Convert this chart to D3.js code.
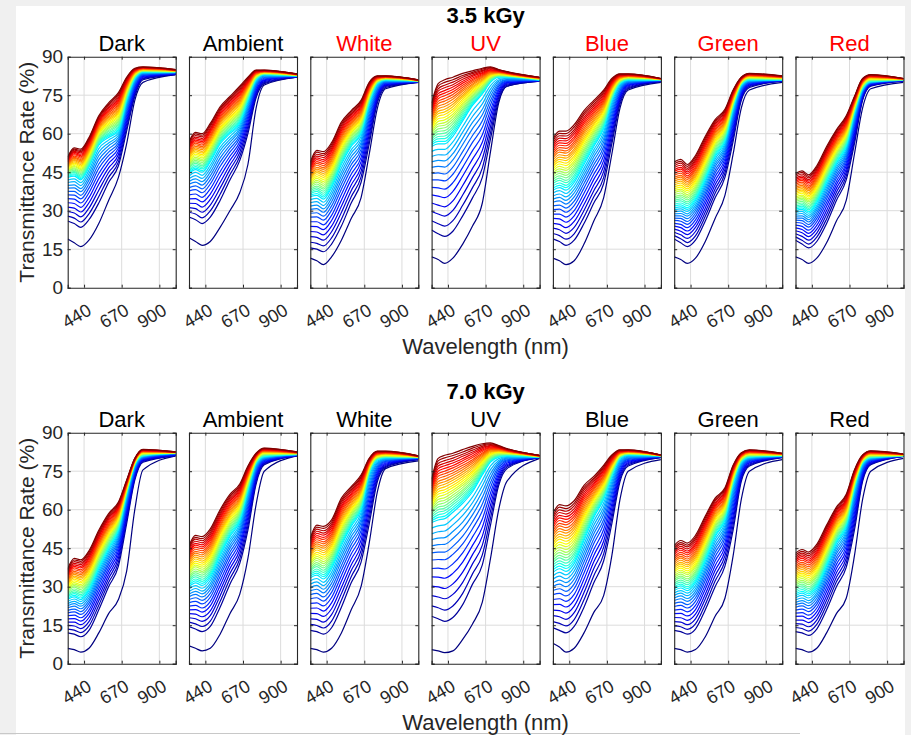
<!DOCTYPE html>
<html><head><meta charset="utf-8">
<script src="https://cdn.jsdelivr.net/npm/d3@7"></script>
<style>html,body{margin:0;padding:0;background:#f0f0f0;}svg{display:block;}</style>
</head><body>
<svg id="chart" width="911" height="735"></svg>
<script>
// ---------------- data ----------------
const wavelengths = [340, 380, 420, 470, 530, 590, 650, 700, 750, 800, 1000];
const xTicks = [440, 670, 900];
const yTicks = [0, 15, 30, 45, 60, 75, 90];
const doses = ["3.5 kGy", "7.0 kGy"];
const lightConditions = ["Dark", "Ambient", "White", "UV", "Blue", "Green", "Red"];
const redTitlesTopRow = ["White", "UV", "Blue", "Green", "Red"];

// transmittance (%) per curve at the wavelengths above, lowest curve first
const dark35 = [
[19,17.5,16,18.5,25,34,43,56,73,80,83],
[26,25,23.5,26.5,33,41,47.5,61,74.5,81,83],
[27.9,27.1,25.6,28.8,35.5,43,49,62.3,75.3,81.4,83.1],
[29.7,29.1,27.6,31,38,44.9,50.5,63.6,76,81.7,83.2],
[31.4,31,29.5,33.1,40.3,46.7,51.9,64.8,76.7,82,83.3],
[33.1,32.8,31.3,35.1,42.5,48.4,53.2,66,77.4,82.3,83.4],
[34.7,34.5,33,37,44.5,50,54.4,67.1,78.1,82.6,83.5],
[36.2,36.1,34.6,38.8,46.5,51.5,55.6,68.2,78.7,82.8,83.6],
[37.5,37.5,36,40.4,48.2,52.8,56.6,69.1,79.3,83.1,83.7],
[38.8,38.9,37.4,41.9,49.9,54.1,57.6,70,79.8,83.3,83.8],
[39.9,40.1,38.6,43.2,51.4,55.3,58.5,70.8,80.3,83.5,83.9],
[41,41.3,39.8,44.5,52.8,56.4,59.4,71.6,80.7,83.6,83.9],
[42,42.4,40.9,45.8,54.2,57.5,60.2,72.3,81.1,83.8,84],
[43,43.5,42,47,55.5,58.5,61,73,81.5,84,84],
[43.3,44,42.5,47.5,56,59.1,61.6,73.4,81.7,84.1,84],
[43.7,44.4,43,48,56.5,59.6,62.3,73.8,81.8,84.2,84.1],
[44,44.9,43.5,48.4,56.9,60.2,62.9,74.1,82,84.3,84.1],
[44.3,45.3,44,48.9,57.4,60.8,63.5,74.5,82.2,84.3,84.2],
[44.7,45.8,44.5,49.4,57.9,61.3,64.1,74.9,82.3,84.4,84.2],
[45,46.3,45,49.9,58.4,61.9,64.8,75.3,82.5,84.5,84.3],
[45.3,46.7,45.5,50.4,58.9,62.4,65.4,75.6,82.7,84.6,84.3],
[45.7,47.2,46,50.8,59.3,63,66,76,82.8,84.7,84.3],
[46,47.6,46.5,51.3,59.8,63.6,66.6,76.4,83,84.8,84.4],
[46.3,48.1,47,51.8,60.3,64.1,67.3,76.8,83.2,84.8,84.4],
[46.7,48.5,47.5,52.3,60.8,64.7,67.9,77.1,83.3,84.9,84.5],
[47,49,48,52.8,61.3,65.3,68.5,77.5,83.5,85,84.5],
[47.3,49.5,48.5,53.2,61.7,65.8,69.1,77.9,83.7,85.1,84.5],
[47.7,49.9,49,53.7,62.2,66.4,69.8,78.3,83.8,85.2,84.6],
[48,50.4,49.5,54.2,62.7,66.9,70.4,78.6,84,85.3,84.6],
[48.3,50.8,50,54.7,63.2,67.5,71,79,84.2,85.3,84.7],
[48.7,51.3,50.5,55.1,63.6,68.1,71.6,79.4,84.3,85.4,84.7],
[49,51.8,51,55.6,64.1,68.6,72.3,79.8,84.5,85.5,84.8],
[49.3,52.2,51.5,56.1,64.6,69.2,72.9,80.1,84.7,85.6,84.8],
[49.7,52.7,52,56.6,65.1,69.8,73.5,80.5,84.8,85.7,84.8],
[50,53.1,52.5,57.1,65.6,70.3,74.1,80.9,85,85.8,84.9],
[50.3,53.6,53,57.5,66.1,70.9,74.8,81.3,85.2,85.8,84.9],
[50.7,54,53.5,58,66.5,71.4,75.4,81.6,85.3,85.9,85],
[51,54.5,54,58.5,67,72,76,82,85.5,86,85]];

const ambient35 = [
[19.5,18,16.5,18,23.5,30,37,48,70,79,82],
[27.5,26.5,25,27.5,34,42,49.5,60,74,79.5,82],
[29.4,28.7,27.2,29.9,36.4,44,51.1,61.5,74.8,79.9,82],
[31.2,30.8,29.4,32.2,38.8,46,52.7,62.9,75.5,80.3,82.1],
[32.9,32.8,31.4,34.4,41,47.8,54.2,64.2,76.2,80.7,82.2],
[34.6,34.7,33.4,36.5,43.2,49.6,55.6,65.5,76.9,81,82.2],
[36.2,36.5,35.2,38.5,45.2,51.2,56.9,66.7,77.6,81.3,82.3],
[37.7,38.2,37,40.4,47.2,52.8,58.2,67.8,78.2,81.6,82.3],
[39,39.7,38.5,42,48.9,54.2,59.3,68.8,78.8,81.9,82.4],
[40.3,41.1,40,43.6,50.5,55.5,60.4,69.8,79.3,82.1,82.4],
[41.4,42.4,41.3,45,52,56.7,61.4,70.6,79.8,82.4,82.4],
[42.5,43.7,42.6,46.4,53.4,57.8,62.3,71.4,80.2,82.6,82.4],
[43.5,44.9,43.8,47.7,54.7,58.9,63.2,72.2,80.6,82.8,82.5],
[44.5,46,45,49,56,60,64,73,81,83,82.5],
[45,46.6,45.6,49.6,56.6,60.6,64.6,73.4,81.2,83.1,82.5],
[45.5,47.2,46.3,50.3,57.2,61.2,65.2,73.8,81.3,83.2,82.6],
[46,47.8,46.9,50.9,57.8,61.8,65.8,74.1,81.5,83.2,82.6],
[46.6,48.4,47.5,51.5,58.4,62.4,66.4,74.5,81.6,83.3,82.6],
[47.1,49,48.1,52.1,59,63,67,74.9,81.8,83.4,82.7],
[47.6,49.6,48.8,52.8,59.6,63.6,67.6,75.3,82,83.5,82.7],
[48.1,50.2,49.4,53.4,60.2,64.2,68.2,75.6,82.1,83.6,82.7],
[48.7,50.8,50,54,60.8,64.8,68.8,76,82.3,83.6,82.8],
[49.2,51.4,50.6,54.6,61.4,65.4,69.4,76.4,82.5,83.7,82.8],
[49.7,52,51.3,55.3,62,66,70,76.8,82.6,83.8,82.8],
[50.2,52.6,51.9,55.9,62.6,66.6,70.6,77.1,82.8,83.9,82.9],
[50.8,53.3,52.5,56.5,63.3,67.3,71.3,77.5,82.9,83.9,82.9],
[51.3,53.9,53.1,57.1,63.9,67.9,71.9,77.9,83.1,84,82.9],
[51.8,54.5,53.8,57.8,64.5,68.5,72.5,78.3,83.2,84.1,83],
[52.3,55.1,54.4,58.4,65.1,69.1,73.1,78.6,83.4,84.2,83],
[52.8,55.7,55,59,65.7,69.7,73.7,79,83.5,84.2,83],
[53.3,56.3,55.6,59.6,66.3,70.3,74.3,79.4,83.7,84.3,83.1],
[53.9,56.9,56.3,60.3,66.9,70.9,74.9,79.8,83.9,84.4,83.1],
[54.4,57.5,56.9,60.9,67.5,71.5,75.5,80.1,84,84.4,83.1],
[54.9,58.1,57.5,61.5,68.1,72.1,76.1,80.5,84.2,84.5,83.2],
[55.4,58.7,58.1,62.1,68.7,72.7,76.7,80.9,84.4,84.6,83.2],
[56,59.3,58.8,62.8,69.3,73.3,77.3,81.3,84.5,84.7,83.2],
[56.5,59.9,59.4,63.4,69.9,73.9,77.9,81.6,84.7,84.7,83.3],
[57,60.5,60,64,70.5,74.5,78.5,82,84.8,84.8,83.3]];

const white35 = [
[11.5,10.5,9,12,18.5,27,35,52,70,77.5,80],
[15.5,15,14,17,24,33,41,56,72,78,80],
[17.7,17.3,16.3,19.4,26.7,35.4,43.1,57.8,72.9,78.4,80.1],
[19.9,19.6,18.5,21.8,29.3,37.8,45.2,59.5,73.7,78.7,80.1],
[21.9,21.7,20.6,24,31.7,40,47.1,61.1,74.5,79,80.2],
[23.9,23.8,22.6,26.2,34.1,42.2,49,62.7,75.2,79.3,80.2],
[25.7,25.7,24.5,28.2,36.3,44.2,50.7,64.2,75.9,79.6,80.3],
[27.5,27.6,26.3,30.2,38.4,46.2,52.4,65.6,76.5,79.8,80.3],
[29,29.2,27.9,31.9,40.2,47.9,53.9,66.8,77.1,80.1,80.4],
[30.5,30.8,29.4,33.5,42,49.5,55.3,68,77.6,80.3,80.4],
[31.8,32.2,30.7,35,43.6,51,56.5,69.1,78.1,80.5,80.4],
[33.1,33.5,32,36.4,45.1,52.4,57.7,70.1,78.6,80.6,80.4],
[34.3,34.8,33.3,37.7,46.6,53.7,58.9,71.1,79.1,80.8,80.5],
[35.5,36,34.5,39,48,55,60,72,79.5,81,80.5],
[36.1,36.7,35.3,39.7,48.7,55.6,60.5,72.3,79.6,81.1,80.5],
[36.6,37.5,36,40.5,49.4,56.2,61.1,72.7,79.8,81.1,80.5],
[37.2,38.2,36.8,41.2,50.1,56.8,61.6,73,79.9,81.2,80.6],
[37.8,38.9,37.6,41.9,50.8,57.3,62.2,73.3,80,81.3,80.6],
[38.3,39.6,38.4,42.6,51.4,57.9,62.7,73.7,80.1,81.3,80.6],
[38.9,40.4,39.1,43.4,52.1,58.5,63.3,74,80.3,81.4,80.6],
[39.4,41.1,39.9,44.1,52.8,59.1,63.8,74.3,80.4,81.4,80.6],
[40,41.8,40.7,44.8,53.5,59.7,64.3,74.7,80.5,81.5,80.7],
[40.6,42.6,41.4,45.6,54.2,60.3,64.9,75,80.6,81.6,80.7],
[41.1,43.3,42.2,46.3,54.9,60.8,65.4,75.3,80.8,81.6,80.7],
[41.7,44,43,47,55.6,61.4,66,75.7,80.9,81.7,80.7],
[42.3,44.8,43.8,47.8,56.3,62,66.5,76,81,81.8,80.8],
[42.8,45.5,44.5,48.5,56.9,62.6,67,76.3,81.1,81.8,80.8],
[43.4,46.2,45.3,49.2,57.6,63.2,67.6,76.7,81.3,81.9,80.8],
[43.9,46.9,46.1,49.9,58.3,63.8,68.1,77,81.4,81.9,80.8],
[44.5,47.7,46.8,50.7,59,64.3,68.7,77.3,81.5,82,80.8],
[45.1,48.4,47.6,51.4,59.7,64.9,69.2,77.7,81.6,82.1,80.9],
[45.6,49.1,48.4,52.1,60.4,65.5,69.8,78,81.8,82.1,80.9],
[46.2,49.9,49.2,52.9,61.1,66.1,70.3,78.3,81.9,82.2,80.9],
[46.8,50.6,49.9,53.6,61.8,66.7,70.8,78.7,82,82.3,80.9],
[47.3,51.3,50.7,54.3,62.4,67.3,71.4,79,82.1,82.3,80.9],
[47.9,52,51.5,55,63.1,67.8,71.9,79.3,82.3,82.4,81],
[48.4,52.8,52.2,55.8,63.8,68.4,72.5,79.7,82.4,82.4,81],
[49,53.5,53,56.5,64.5,69,73,80,82.5,82.5,81]];

const uv35 = [
[12,11,9.5,11.5,17,24,33,53,72,78.5,80.5],
[22.5,21,20,22,28,35,43,58,73,78.5,80.5],
[26.1,24.9,24,26.1,32.1,39,46.6,60.4,74,78.9,80.6],
[29.7,28.7,27.9,30.1,36.1,42.9,50.2,62.8,75,79.3,80.6],
[33,32.2,31.5,33.8,39.8,46.5,53.5,65,75.9,79.7,80.7],
[36.2,35.7,35.1,37.5,43.5,50.1,56.7,67.2,76.8,80,80.7],
[39.1,38.9,38.4,40.9,46.9,53.4,59.6,69.2,77.6,80.3,80.8],
[42,42,41.6,44.2,50.2,56.6,62.5,71.2,78.4,80.6,80.8],
[44.5,44.7,44.3,47,53,59.3,65,72.9,79.1,80.9,80.9],
[46.9,47.3,47,49.8,55.8,62,67.4,74.5,79.8,81.1,80.9],
[49,49.6,49.4,52.2,58.2,64.4,69.5,76,80.4,81.4,80.9],
[51.1,51.8,51.7,54.6,60.6,66.7,71.6,77.4,80.9,81.6,80.9],
[53.1,53.9,53.9,56.8,62.8,68.9,73.6,78.7,81.5,81.8,81],
[55,56,56,59,65,71,75.5,80,82,82,81],
[55.7,57,57,60,65.8,71.6,75.9,80.3,82.1,82.1,81],
[56.4,58,58.1,60.9,66.5,72.1,76.3,80.5,82.3,82.2,81.1],
[57.1,58.9,59.1,61.9,67.3,72.7,76.8,80.8,82.4,82.3,81.1],
[57.8,59.9,60.2,62.8,68.1,73.3,77.2,81,82.5,82.4,81.2],
[58.5,60.9,61.2,63.8,68.9,73.8,77.6,81.3,82.6,82.5,81.2],
[59.3,61.9,62.3,64.8,69.6,74.4,78,81.5,82.8,82.6,81.3],
[60,62.9,63.3,65.7,70.4,74.9,78.4,81.8,82.9,82.6,81.3],
[60.7,63.8,64.3,66.7,71.2,75.5,78.8,82,83,82.7,81.3],
[61.4,64.8,65.4,67.6,71.9,76.1,79.3,82.3,83.1,82.8,81.4],
[62.1,65.8,66.4,68.6,72.7,76.6,79.7,82.5,83.3,82.9,81.4],
[62.8,66.8,67.5,69.5,73.5,77.2,80.1,82.8,83.4,83,81.5],
[63.5,67.8,68.5,70.5,74.3,77.8,80.5,83,83.5,83.1,81.5],
[64.2,68.7,69.5,71.5,75,78.3,80.9,83.3,83.6,83.2,81.5],
[64.9,69.7,70.6,72.4,75.8,78.9,81.3,83.5,83.8,83.3,81.6],
[65.6,70.7,71.6,73.4,76.6,79.4,81.8,83.8,83.9,83.4,81.6],
[66.3,71.7,72.7,74.3,77.3,80,82.2,84,84,83.5,81.7],
[67,72.6,73.7,75.3,78.1,80.6,82.6,84.3,84.1,83.6,81.7],
[67.8,73.6,74.8,76.3,78.9,81.1,83,84.5,84.3,83.7,81.8],
[68.5,74.6,75.8,77.2,79.7,81.7,83.4,84.8,84.4,83.7,81.8],
[69.2,75.6,76.8,78.2,80.4,82.3,83.8,85,84.5,83.8,81.8],
[69.9,76.6,77.9,79.1,81.2,82.8,84.3,85.3,84.6,83.9,81.9],
[70.6,77.5,78.9,80.1,82,83.4,84.7,85.5,84.8,84,81.9],
[71.3,78.5,80,81,82.7,83.9,85.1,85.8,84.9,84.1,82],
[72,79.5,81,82,83.5,84.5,85.5,86,85,84.2,82]];

const blue35 = [
[11.5,10.5,9,10.5,17,26,35,52,70,77,80],
[19,18,16.5,18.5,25,33,40.5,56,71.5,77.5,80.3],
[21.1,20.3,18.9,21,27.6,35.4,42.9,57.9,72.4,77.9,80.4],
[23.2,22.6,21.2,23.5,30.1,37.8,45.2,59.7,73.3,78.3,80.5],
[25.1,24.7,23.4,25.8,32.4,40,47.4,61.4,74.1,78.7,80.6],
[27,26.8,25.5,28,34.7,42.2,49.5,63.1,74.9,79,80.6],
[28.7,28.7,27.5,30,36.8,44.2,51.5,64.7,75.6,79.3,80.7],
[30.4,30.6,29.4,32,38.8,46.2,53.4,66.2,76.3,79.6,80.7],
[31.9,32.2,31,33.7,40.6,47.9,55,67.5,76.9,79.9,80.8],
[33.3,33.8,32.6,35.4,42.3,49.5,56.6,68.8,77.5,80.1,80.8],
[34.5,35.2,34,36.9,43.8,51,58,69.9,78,80.4,80.9],
[35.7,36.5,35.4,38.3,45.2,52.4,59.4,71,78.5,80.6,80.9],
[36.9,37.8,36.7,39.7,46.6,53.7,60.7,72,79,80.8,81],
[38,39,38,41,48,55,62,73,79.5,81,81],
[38.8,39.9,39,41.9,48.9,55.8,62.6,73.4,79.7,81.1,81],
[39.7,40.8,39.9,42.9,49.8,56.5,63.3,73.7,79.8,81.2,81],
[40.5,41.8,40.9,43.8,50.6,57.3,63.9,74.1,80,81.3,81.1],
[41.3,42.7,41.8,44.8,51.5,58,64.5,74.4,80.1,81.4,81.1],
[42.2,43.6,42.8,45.7,52.4,58.8,65.1,74.8,80.3,81.5,81.1],
[43,44.5,43.8,46.6,53.3,59.5,65.8,75.1,80.5,81.6,81.1],
[43.8,45.4,44.7,47.6,54.1,60.3,66.4,75.5,80.6,81.7,81.2],
[44.7,46.3,45.7,48.5,55,61,67,75.8,80.8,81.8,81.2],
[45.5,47.3,46.6,49.4,55.9,61.8,67.6,76.2,80.9,81.9,81.2],
[46.3,48.2,47.6,50.4,56.8,62.5,68.3,76.5,81.1,82,81.2],
[47.2,49.1,48.5,51.3,57.6,63.3,68.9,76.9,81.2,82.1,81.2],
[48,50,49.5,52.3,58.5,64,69.5,77.3,81.4,82.2,81.3],
[48.8,50.9,50.5,53.2,59.4,64.8,70.1,77.6,81.6,82.3,81.3],
[49.7,51.8,51.4,54.1,60.3,65.5,70.8,78,81.7,82.3,81.3],
[50.5,52.8,52.4,55.1,61.1,66.3,71.4,78.3,81.9,82.4,81.3],
[51.3,53.7,53.3,56,62,67,72,78.7,82,82.5,81.3],
[52.2,54.6,54.3,56.9,62.9,67.8,72.6,79,82.2,82.6,81.4],
[53,55.5,55.3,57.9,63.8,68.5,73.3,79.4,82.4,82.7,81.4],
[53.8,56.4,56.2,58.8,64.6,69.3,73.9,79.7,82.5,82.8,81.4],
[54.7,57.3,57.2,59.8,65.5,70,74.5,80.1,82.7,82.9,81.4],
[55.5,58.3,58.1,60.7,66.4,70.8,75.1,80.4,82.8,83,81.4],
[56.3,59.2,59.1,61.6,67.3,71.5,75.8,80.8,83,83.1,81.5],
[57.2,60.1,60,62.6,68.1,72.3,76.4,81.1,83.2,83.2,81.5],
[58,61,61,63.5,69,73,77,81.5,83.3,83.3,81.5]];

const green35 = [
[12,11,9.5,11.5,18,27,36,52,70,77,80],
[19,17.5,16,18.5,26,35,43,57,73,78,80.5],
[20.3,19.1,17.6,20.2,27.8,36.8,44.6,58.5,73.7,78.4,80.6],
[21.6,20.6,19.2,21.9,29.5,38.5,46.1,59.9,74.3,78.7,80.6],
[22.8,22,20.7,23.5,31.1,40.1,47.5,61.2,74.9,79,80.7],
[24,23.4,22.1,25,32.7,41.7,48.9,62.5,75.5,79.3,80.7],
[25.1,24.7,23.4,26.4,34.2,43.2,50.2,63.7,76.1,79.6,80.8],
[26.2,25.9,24.7,27.8,35.6,44.6,51.4,64.8,76.6,79.8,80.8],
[27.1,27,25.8,29,36.8,45.8,52.5,65.8,77.1,80.1,80.9],
[28,28,26.9,30.1,38,47,53.5,66.8,77.5,80.3,80.9],
[28.8,28.9,27.9,31.1,39.1,48.1,54.4,67.6,77.9,80.5,80.9],
[29.6,29.8,28.8,32.1,40.1,49.1,55.3,68.4,78.3,80.6,80.9],
[30.3,30.7,29.7,33.1,41.1,50.1,56.2,69.2,78.7,80.8,81],
[31,31.5,30.5,34,42,51,57,70,79,81,81],
[31.8,32.3,31.2,34.7,42.7,51.6,57.5,70.3,79.1,81.1,81.1],
[32.5,33,32,35.5,43.4,52.2,58,70.6,79.3,81.2,81.1],
[33.3,33.8,32.7,36.2,44.1,52.8,58.6,70.9,79.4,81.3,81.2],
[34,34.6,33.4,36.9,44.8,53.4,59.1,71.2,79.5,81.4,81.3],
[34.8,35.4,34.2,37.7,45.5,54,59.6,71.5,79.6,81.5,81.3],
[35.5,36.1,34.9,38.4,46.3,54.6,60.1,71.8,79.8,81.6,81.4],
[36.3,36.9,35.6,39.1,47,55.2,60.7,72,79.9,81.7,81.4],
[37,37.7,36.3,39.8,47.7,55.8,61.2,72.3,80,81.8,81.5],
[37.8,38.4,37.1,40.6,48.4,56.4,61.7,72.6,80.1,81.9,81.6],
[38.5,39.2,37.8,41.3,49.1,57,62.2,72.9,80.3,82,81.6],
[39.3,40,38.5,42,49.8,57.6,62.7,73.2,80.4,82.1,81.7],
[40,40.8,39.3,42.8,50.5,58.3,63.3,73.5,80.5,82.3,81.8],
[40.8,41.5,40,43.5,51.2,58.9,63.8,73.8,80.6,82.4,81.8],
[41.5,42.3,40.7,44.2,51.9,59.5,64.3,74.1,80.8,82.5,81.9],
[42.3,43.1,41.4,44.9,52.6,60.1,64.8,74.4,80.9,82.6,81.9],
[43,43.8,42.2,45.7,53.3,60.7,65.3,74.7,81,82.7,82],
[43.8,44.6,42.9,46.4,54,61.3,65.9,75,81.1,82.8,82.1],
[44.5,45.4,43.6,47.1,54.8,61.9,66.4,75.3,81.3,82.9,82.1],
[45.3,46.2,44.4,47.9,55.5,62.5,66.9,75.5,81.4,83,82.2],
[46,46.9,45.1,48.6,56.2,63.1,67.4,75.8,81.5,83.1,82.3],
[46.8,47.7,45.8,49.3,56.9,63.7,67.9,76.1,81.6,83.2,82.3],
[47.5,48.5,46.5,50,57.6,64.3,68.5,76.4,81.8,83.3,82.4],
[48.3,49.2,47.3,50.8,58.3,64.9,69,76.7,81.9,83.4,82.4],
[49,50,48,51.5,59,65.5,69.5,77,82,83.5,82.5]];

const red35 = [
[12,11,9.5,11.5,17.5,26,34,52,70,77.5,80],
[18.5,17,15.5,18,25,34,42,56,73,78.5,80.5],
[19.8,18.5,17,19.7,26.8,35.6,43.5,57.3,73.5,78.7,80.6],
[21,20,18.5,21.3,28.5,37.2,44.9,58.6,74,78.9,80.6],
[22.2,21.4,19.9,22.8,30.1,38.7,46.2,59.8,74.5,79.1,80.7],
[23.3,22.7,21.2,24.3,31.7,40.1,47.5,61,74.9,79.3,80.7],
[24.4,23.9,22.4,25.7,33.2,41.4,48.7,62.1,75.3,79.5,80.8],
[25.4,25.1,23.6,27,34.6,42.7,49.8,63.2,75.7,79.6,80.8],
[26.3,26.1,24.6,28.2,35.8,43.8,50.8,64.1,76.1,79.8,80.9],
[27.1,27.1,25.6,29.3,37,44.9,51.8,65,76.4,79.9,80.9],
[27.9,28,26.5,30.3,38.1,45.9,52.6,65.8,76.7,80,80.9],
[28.6,28.9,27.4,31.2,39.1,46.8,53.4,66.6,77,80.1,80.9],
[29.3,29.7,28.2,32.1,40.1,47.7,54.2,67.3,77.3,80.2,81],
[30,30.5,29,33,41,48.5,55,68,77.5,80.3,81],
[30.6,31.1,29.6,33.6,41.6,49,55.5,68.3,77.7,80.4,81],
[31.2,31.8,30.3,34.2,42.2,49.6,56,68.5,77.8,80.5,81],
[31.8,32.4,30.9,34.8,42.8,50.1,56.5,68.8,78,80.6,81.1],
[32.4,33,31.5,35.4,43.3,50.7,57,69.1,78.2,80.8,81.1],
[33,33.6,32.1,36,43.9,51.2,57.5,69.4,78.3,80.9,81.1],
[33.6,34.3,32.8,36.6,44.5,51.8,58,69.6,78.5,81,81.1],
[34.2,34.9,33.4,37.2,45.1,52.3,58.5,69.9,78.7,81.1,81.2],
[34.8,35.5,34,37.8,45.7,52.8,59,70.2,78.8,81.2,81.2],
[35.4,36.1,34.6,38.4,46.3,53.4,59.5,70.4,79,81.3,81.2],
[36,36.8,35.3,39,46.8,53.9,60,70.7,79.2,81.4,81.2],
[36.6,37.4,35.9,39.6,47.4,54.5,60.5,71,79.3,81.5,81.2],
[37.3,38,36.5,40.3,48,55,61,71.3,79.5,81.7,81.3],
[37.9,38.6,37.1,40.9,48.6,55.5,61.5,71.5,79.7,81.8,81.3],
[38.5,39.3,37.8,41.5,49.2,56.1,62,71.8,79.8,81.9,81.3],
[39.1,39.9,38.4,42.1,49.8,56.6,62.5,72.1,80,82,81.3],
[39.7,40.5,39,42.7,50.3,57.2,63,72.3,80.2,82.1,81.3],
[40.3,41.1,39.6,43.3,50.9,57.7,63.5,72.6,80.3,82.2,81.4],
[40.9,41.8,40.3,43.9,51.5,58.3,64,72.9,80.5,82.3,81.4],
[41.5,42.4,40.9,44.5,52.1,58.8,64.5,73.2,80.7,82.4,81.4],
[42.1,43,41.5,45.1,52.7,59.3,65,73.4,80.8,82.5,81.4],
[42.7,43.6,42.1,45.7,53.3,59.9,65.5,73.7,81,82.7,81.4],
[43.3,44.3,42.8,46.3,53.8,60.4,66,74,81.2,82.8,81.5],
[43.9,44.9,43.4,46.9,54.4,61,66.5,74.2,81.3,82.9,81.5],
[44.5,45.5,44,47.5,55,61.5,67,74.5,81.5,83,81.5]];

const dark70 = [
[6,5.5,4.5,6,12,19.5,25,36,60,75.5,81],
[12,11.5,10.5,13,21,30,38,54.5,71.5,78.5,81],
[13.5,13.1,12.1,14.7,22.8,31.6,39.6,55.8,72.2,78.8,81.1],
[14.9,14.7,13.7,16.4,24.5,33.2,41.1,57,72.8,79.1,81.2],
[16.2,16.2,15.2,18,26.1,34.7,42.5,58.2,73.4,79.4,81.3],
[17.5,17.6,16.6,19.5,27.7,36.1,43.9,59.3,74,79.6,81.4],
[18.7,18.9,17.9,20.9,29.2,37.4,45.2,60.4,74.6,79.8,81.5],
[19.8,20.2,19.2,22.3,30.6,38.7,46.4,61.4,75.1,80,81.6],
[20.8,21.3,20.3,23.5,31.8,39.8,47.5,62.3,75.6,80.2,81.7],
[21.8,22.4,21.4,24.6,33,40.9,48.5,63.1,76,80.4,81.8],
[22.6,23.4,22.4,25.6,34.1,41.9,49.4,63.9,76.4,80.6,81.9],
[23.4,24.3,23.3,26.6,35.1,42.8,50.3,64.6,76.8,80.7,81.9],
[24.2,25.2,24.2,27.6,36.1,43.7,51.2,65.3,77.2,80.9,82],
[25,26,25,28.5,37,44.5,52,66,77.5,81,82],
[25.5,26.6,25.6,29.1,37.6,45.1,52.5,66.2,77.6,81.1,82],
[26,27.3,26.3,29.8,38.3,45.7,52.9,66.5,77.7,81.2,82],
[26.5,27.9,26.9,30.4,38.9,46.3,53.4,66.7,77.8,81.3,82.1],
[27,28.5,27.6,31.1,39.5,46.8,53.8,66.9,77.9,81.4,82.1],
[27.5,29.1,28.2,31.7,40.1,47.4,54.3,67.1,78,81.5,82.1],
[28,29.8,28.9,32.4,40.8,48,54.8,67.4,78.1,81.6,82.1],
[28.5,30.4,29.5,33,41.4,48.6,55.2,67.6,78.2,81.7,82.2],
[29,31,30.2,33.7,42,49.2,55.7,67.8,78.3,81.8,82.2],
[29.5,31.6,30.8,34.3,42.6,49.8,56.1,68.1,78.4,81.9,82.2],
[30,32.3,31.5,35,43.3,50.3,56.6,68.3,78.5,82,82.2],
[30.5,32.9,32.1,35.6,43.9,50.9,57,68.5,78.6,82.1,82.2],
[31,33.5,32.8,36.3,44.5,51.5,57.5,68.8,78.8,82.3,82.3],
[31.5,34.1,33.4,36.9,45.1,52.1,58,69,78.9,82.4,82.3],
[32,34.8,34,37.5,45.8,52.7,58.4,69.2,79,82.5,82.3],
[32.5,35.4,34.7,38.2,46.4,53.3,58.9,69.4,79.1,82.6,82.3],
[33,36,35.3,38.8,47,53.8,59.3,69.7,79.2,82.7,82.3],
[33.5,36.6,36,39.5,47.6,54.4,59.8,69.9,79.3,82.8,82.4],
[34,37.3,36.6,40.1,48.3,55,60.3,70.1,79.4,82.9,82.4],
[34.5,37.9,37.3,40.8,48.9,55.6,60.7,70.4,79.5,83,82.4],
[35,38.5,37.9,41.4,49.5,56.2,61.2,70.6,79.6,83.1,82.4],
[35.5,39.1,38.6,42.1,50.1,56.8,61.6,70.8,79.7,83.2,82.4],
[36,39.8,39.2,42.7,50.8,57.3,62.1,71,79.8,83.3,82.5],
[36.5,40.4,39.9,43.4,51.4,57.9,62.5,71.3,79.9,83.4,82.5],
[37,41,40.5,44,52,58.5,63,71.5,80,83.5,82.5]];

const ambient70 = [
[7,6,5,6,11.5,19.5,27,41,62,75,81],
[14.5,13.5,12.5,14.5,22,31,39,52,70,77.5,81],
[16.2,15.5,14.5,16.6,24.2,33.1,40.8,53.7,70.9,77.9,81.1],
[17.9,17.5,16.5,18.7,26.4,35.1,42.6,55.4,71.8,78.2,81.1],
[19.5,19.3,18.3,20.6,28.4,37,44.3,57,72.6,78.5,81.2],
[21,21.1,20.1,22.5,30.4,38.8,45.9,58.5,73.4,78.8,81.2],
[22.4,22.7,21.7,24.2,32.2,40.5,47.4,59.9,74.1,79.1,81.3],
[23.8,24.3,23.3,25.9,34,42.1,48.9,61.3,74.8,79.4,81.3],
[25,25.7,24.7,27.4,35.5,43.5,50.2,62.5,75.4,79.7,81.4],
[26.1,27,26,28.8,37,44.9,51.4,63.6,76,79.9,81.4],
[27.1,28.2,27.2,30,38.3,46.1,52.5,64.6,76.5,80.1,81.4],
[28.1,29.3,28.3,31.2,39.6,47.3,53.5,65.6,77,80.3,81.4],
[29.1,30.4,29.4,32.4,40.8,48.4,54.5,66.6,77.5,80.5,81.5],
[30,31.5,30.5,33.5,42,49.5,55.5,67.5,78,80.7,81.5],
[30.7,32.3,31.3,34.3,42.8,50.2,56.1,67.9,78.2,80.8,81.5],
[31.3,33,32.1,35.1,43.5,50.9,56.7,68.3,78.3,81,81.6],
[32,33.8,32.9,35.9,44.3,51.6,57.3,68.7,78.5,81.1,81.6],
[32.7,34.6,33.7,36.7,45,52.3,57.9,69.1,78.7,81.3,81.7],
[33.3,35.4,34.5,37.5,45.8,52.9,58.5,69.5,78.8,81.4,81.7],
[34,36.1,35.3,38.3,46.5,53.6,59.1,69.9,79,81.5,81.8],
[34.7,36.9,36,39,47.3,54.3,59.7,70.3,79.2,81.7,81.8],
[35.3,37.7,36.8,39.8,48,55,60.3,70.7,79.3,81.8,81.8],
[36,38.4,37.6,40.6,48.8,55.7,60.9,71.1,79.5,81.9,81.9],
[36.7,39.2,38.4,41.4,49.5,56.4,61.5,71.5,79.7,82.1,81.9],
[37.3,40,39.2,42.2,50.3,57.1,62.1,71.9,79.8,82.2,82],
[38,40.8,40,43,51,57.8,62.8,72.3,80,82.4,82],
[38.7,41.5,40.8,43.8,51.8,58.4,63.4,72.7,80.2,82.5,82],
[39.3,42.3,41.6,44.6,52.5,59.1,64,73.1,80.3,82.6,82.1],
[40,43.1,42.4,45.4,53.3,59.8,64.6,73.4,80.5,82.8,82.1],
[40.7,43.8,43.2,46.2,54,60.5,65.2,73.8,80.7,82.9,82.2],
[41.3,44.6,44,47,54.8,61.2,65.8,74.2,80.8,83,82.2],
[42,45.4,44.8,47.8,55.5,61.9,66.4,74.6,81,83.2,82.3],
[42.7,46.2,45.5,48.5,56.3,62.6,67,75,81.2,83.3,82.3],
[43.3,46.9,46.3,49.3,57,63.3,67.6,75.4,81.3,83.5,82.3],
[44,47.7,47.1,50.1,57.8,63.9,68.2,75.8,81.5,83.6,82.4],
[44.7,48.5,47.9,50.9,58.5,64.6,68.8,76.2,81.7,83.7,82.4],
[45.3,49.2,48.7,51.7,59.3,65.3,69.4,76.6,81.8,83.9,82.5],
[46,50,49.5,52.5,60,66,70,77,82,84,82.5]];

const white70 = [
[6,5.5,4.5,6,12,21,30,47,67,76,79],
[13,12.5,11.5,14,22,31.5,39.5,54.5,71,76.5,79.5],
[15.3,14.9,13.9,16.6,24.7,33.9,41.8,56.7,72,76.9,79.6],
[17.5,17.3,16.2,19.1,27.3,36.3,44,58.8,72.9,77.3,79.7],
[19.6,19.5,18.4,21.4,29.7,38.5,46.1,60.8,73.8,77.7,79.8],
[21.6,21.7,20.5,23.7,32.1,40.7,48.1,62.7,74.6,78.1,79.9],
[23.5,23.7,22.5,25.8,34.3,42.7,50,64.5,75.4,78.5,80],
[25.3,25.7,24.4,27.8,36.4,44.7,51.8,66.2,76.1,78.8,80],
[26.9,27.4,26,29.6,38.2,46.4,53.4,67.7,76.8,79.1,80.1],
[28.4,29,27.6,31.3,40,48,54.9,69.1,77.4,79.4,80.2],
[29.7,30.5,29,32.8,41.6,49.5,56.2,70.4,78,79.6,80.3],
[31,31.9,30.4,34.2,43.1,50.9,57.5,71.7,78.5,79.8,80.3],
[32.3,33.2,31.7,35.6,44.6,52.2,58.8,72.9,79,80.1,80.4],
[33.5,34.5,33,37,46,53.5,60,74,79.5,80.3,80.4],
[34.2,35.3,33.9,37.8,46.8,54.2,60.6,74.3,79.6,80.4,80.4],
[34.8,36.1,34.7,38.6,47.5,54.8,61.1,74.5,79.8,80.5,80.5],
[35.4,36.9,35.6,39.4,48.3,55.4,61.7,74.8,79.9,80.6,80.5],
[36.1,37.8,36.4,40.2,49.1,56.1,62.3,75,80.1,80.7,80.5],
[36.7,38.6,37.3,41,49.9,56.7,62.8,75.3,80.2,80.8,80.5],
[37.4,39.4,38.1,41.8,50.6,57.4,63.4,75.5,80.3,80.9,80.6],
[38,40.2,39,42.5,51.4,58,63.9,75.8,80.5,81,80.6],
[38.7,41,39.8,43.3,52.2,58.7,64.5,76,80.6,81.1,80.6],
[39.3,41.8,40.7,44.1,52.9,59.3,65.1,76.3,80.7,81.2,80.6],
[40,42.6,41.5,44.9,53.7,60,65.6,76.5,80.9,81.3,80.7],
[40.6,43.4,42.4,45.7,54.5,60.6,66.2,76.8,81,81.5,80.7],
[41.3,44.3,43.3,46.5,55.3,61.3,66.8,77,81.2,81.6,80.7],
[41.9,45.1,44.1,47.3,56,61.9,67.3,77.3,81.3,81.7,80.7],
[42.5,45.9,45,48.1,56.8,62.5,67.9,77.5,81.4,81.8,80.8],
[43.2,46.7,45.8,48.9,57.6,63.2,68.4,77.8,81.6,81.9,80.8],
[43.8,47.5,46.7,49.7,58.3,63.8,69,78,81.7,82,80.8],
[44.5,48.3,47.5,50.5,59.1,64.5,69.6,78.3,81.8,82.1,80.8],
[45.1,49.1,48.4,51.3,59.9,65.1,70.1,78.5,82,82.2,80.9],
[45.8,49.9,49.2,52,60.7,65.8,70.7,78.8,82.1,82.3,80.9],
[46.4,50.8,50.1,52.8,61.4,66.4,71.3,79,82.3,82.4,80.9],
[47.1,51.6,50.9,53.6,62.2,67.1,71.8,79.3,82.4,82.5,80.9],
[47.7,52.4,51.8,54.4,63,67.7,72.4,79.5,82.5,82.6,81],
[48.4,53.2,52.7,55.2,63.7,68.4,72.9,79.8,82.7,82.7,81],
[49,54,53.5,56,64.5,69,73.5,80,82.8,82.8,81]];

const uv70 = [
[5.5,5,4.3,5,9.5,15.5,24,41,60,71,80],
[18.5,17.5,16.5,18,23,31,38.5,54,69.5,76,80.3],
[22.5,21.8,20.9,22.5,27.4,35,42.4,56.7,70.7,76.6,80.3],
[26.5,26,25.3,27,31.7,38.9,46.2,59.4,71.9,77.1,80.3],
[30.2,29.9,29.3,31.1,35.7,42.5,49.7,61.9,73,77.6,80.4],
[33.8,33.7,33.3,35.2,39.6,46.1,53.2,64.3,74.1,78.1,80.4],
[37.1,37.2,36.9,38.9,43.2,49.4,56.4,66.5,75.1,78.6,80.4],
[40.4,40.6,40.5,42.6,46.7,52.6,59.5,68.7,76.1,79,80.4],
[43.2,43.5,43.5,45.7,49.7,55.3,62.2,70.6,77,79.4,80.5],
[45.9,46.4,46.5,48.8,52.6,58,64.8,72.4,77.8,79.8,80.5],
[48.3,48.9,49.1,51.5,55.2,60.4,67.1,74,78.5,80.1,80.5],
[50.6,51.4,51.7,54.1,57.8,62.7,69.3,75.6,79.2,80.4,80.5],
[52.8,53.7,54.1,56.6,60.2,64.9,71.4,77.1,79.9,80.7,80.5],
[55,56,56.5,59,62.5,67,73.5,78.5,80.5,81,80.5],
[55.7,57,57.5,60,63.4,67.7,74,78.8,80.7,81.1,80.5],
[56.4,58,58.6,60.9,64.2,68.5,74.5,79.1,80.9,81.2,80.6],
[57.1,59,59.6,61.9,65.1,69.2,75,79.4,81.1,81.4,80.6],
[57.8,60,60.6,62.8,66,70,75.5,79.8,81.3,81.5,80.6],
[58.5,61,61.6,63.8,66.9,70.7,76,80.1,81.4,81.6,80.6],
[59.3,62,62.7,64.8,67.7,71.4,76.6,80.4,81.6,81.7,80.7],
[60,63,63.7,65.7,68.6,72.2,77.1,80.7,81.8,81.8,80.7],
[60.7,64,64.7,66.7,69.5,72.9,77.6,81,82,81.9,80.7],
[61.4,65,65.8,67.6,70.3,73.6,78.1,81.3,82.2,82.1,80.8],
[62.1,66,66.8,68.6,71.2,74.4,78.6,81.6,82.4,82.2,80.8],
[62.8,67,67.8,69.5,72.1,75.1,79.1,81.9,82.6,82.3,80.8],
[63.5,68,68.9,70.5,72.9,75.9,79.6,82.3,82.8,82.4,80.9],
[64.2,69,69.9,71.5,73.8,76.6,80.1,82.6,82.9,82.5,80.9],
[64.9,70,70.9,72.4,74.7,77.3,80.6,82.9,83.1,82.6,80.9],
[65.6,71,71.9,73.4,75.6,78.1,81.1,83.2,83.3,82.8,80.9],
[66.3,72,73,74.3,76.4,78.8,81.6,83.5,83.5,82.9,81],
[67,73,74,75.3,77.3,79.5,82.1,83.8,83.7,83,81],
[67.8,74,75,76.3,78.2,80.3,82.7,84.1,83.9,83.1,81],
[68.5,75,76.1,77.2,79.1,81,83.2,84.4,84.1,83.2,81.1],
[69.2,76,77.1,78.2,79.9,81.8,83.7,84.8,84.3,83.3,81.1],
[69.9,77,78.1,79.1,80.8,82.5,84.2,85.1,84.4,83.5,81.1],
[70.6,78,79.1,80.1,81.6,83.2,84.7,85.4,84.6,83.6,81.1],
[71.3,79,80.2,81.1,82.5,84,85.2,85.7,84.8,83.7,81.2],
[72,80,81.2,82,83.4,84.7,85.7,86,85,83.8,81.2]];

const blue70 = [
[8,6.5,4.5,6,12,20,26.5,42,64,75,79.5],
[14,13,12,14.5,22,31.5,40,54.5,71,77,80.3],
[16.4,15.7,14.7,17.2,24.9,34.3,42.7,56.6,72,77.5,80.4],
[18.7,18.3,17.3,19.9,27.7,37.1,45.3,58.6,73,78,80.5],
[20.9,20.7,19.7,22.4,30.3,39.7,47.7,60.5,73.9,78.4,80.6],
[23,23.1,22.1,24.8,32.9,42.2,50.1,62.3,74.8,78.8,80.6],
[25,25.3,24.3,27,35.3,44.5,52.3,64,75.6,79.2,80.7],
[26.9,27.4,26.4,29.2,37.6,46.8,54.4,65.6,76.4,79.6,80.7],
[28.5,29.2,28.2,31.1,39.6,48.7,56.2,67,77.1,79.9,80.8],
[30.1,31,30,32.9,41.5,50.6,58,68.4,77.8,80.2,80.8],
[31.5,32.6,31.6,34.5,43.2,52.3,59.6,69.6,78.4,80.5,80.9],
[32.9,34.1,33.1,36.1,44.9,53.9,61.1,70.8,78.9,80.8,80.9],
[34.2,35.6,34.6,37.6,46.5,55.5,62.6,71.9,79.5,81.1,81],
[35.5,37,36,39,48,57,64,73,80,81.3,81],
[36.5,38,37.1,40,48.9,57.7,64.6,73.3,80.1,81.4,81],
[37.4,39.1,38.1,41,49.8,58.3,65.1,73.7,80.3,81.5,81],
[38.4,40.1,39.2,42.1,50.7,59,65.7,74,80.4,81.6,81],
[39.3,41.2,40.3,43.1,51.6,59.7,66.2,74.4,80.6,81.6,81.1],
[40.3,42.2,41.3,44.1,52.5,60.3,66.8,74.7,80.7,81.7,81.1],
[41.3,43.3,42.4,45.1,53.4,61,67.3,75.1,80.8,81.8,81.1],
[42.2,44.3,43.4,46.1,54.3,61.7,67.9,75.4,81,81.9,81.1],
[43.2,45.3,44.5,47.2,55.2,62.3,68.4,75.8,81.1,82,81.1],
[44.1,46.4,45.6,48.2,56.1,63,69,76.1,81.2,82.1,81.1],
[45.1,47.4,46.6,49.2,57,63.7,69.5,76.5,81.4,82.1,81.1],
[46,48.5,47.7,50.2,57.9,64.3,70.1,76.8,81.5,82.2,81.1],
[47,49.5,48.8,51.3,58.8,65,70.7,77.2,81.7,82.3,81.2],
[48,50.5,49.8,52.3,59.6,65.7,71.2,77.5,81.8,82.4,81.2],
[48.9,51.6,50.9,53.3,60.5,66.3,71.8,77.8,81.9,82.5,81.2],
[49.9,52.6,51.9,54.3,61.4,67,72.3,78.2,82.1,82.6,81.2],
[50.8,53.7,53,55.3,62.3,67.7,72.9,78.5,82.2,82.6,81.2],
[51.8,54.7,54.1,56.4,63.2,68.3,73.4,78.9,82.3,82.7,81.2],
[52.8,55.8,55.1,57.4,64.1,69,74,79.2,82.5,82.8,81.2],
[53.7,56.8,56.2,58.4,65,69.7,74.5,79.6,82.6,82.9,81.2],
[54.7,57.8,57.3,59.4,65.9,70.3,75.1,79.9,82.8,83,81.3],
[55.6,58.9,58.3,60.4,66.8,71,75.6,80.3,82.9,83.1,81.3],
[56.6,59.9,59.4,61.5,67.7,71.7,76.2,80.6,83,83.1,81.3],
[57.5,61,60.4,62.5,68.6,72.3,76.7,81,83.2,83.2,81.3],
[58.5,62,61.5,63.5,69.5,73,77.3,81.3,83.3,83.3,81.3]];

const green70 = [
[6,5.5,4.5,5.5,10.5,18.5,25.5,42,64,75,79.5],
[13,12.5,11.5,13.5,21,30,38,52,71,77,80.3],
[14.7,14.4,13.4,15.5,23.1,32.2,40,54,71.9,77.4,80.4],
[16.4,16.2,15.2,17.5,25.2,34.3,42,56,72.7,77.8,80.5],
[18,17.9,16.9,19.3,27.1,36.3,43.8,57.8,73.5,78.2,80.6],
[19.5,19.6,18.6,21.1,29,38.2,45.6,59.6,74.2,78.5,80.6],
[20.9,21.2,20.2,22.7,30.7,40,47.2,61.2,74.9,78.8,80.7],
[22.3,22.7,21.7,24.3,32.4,41.7,48.8,62.8,75.5,79.1,80.7],
[23.5,24,23,25.7,33.9,43.2,50.2,64.2,76.1,79.4,80.8],
[24.6,25.3,24.3,27,35.3,44.6,51.5,65.5,76.6,79.6,80.8],
[25.6,26.4,25.4,28.2,36.5,45.9,52.7,66.7,77.1,79.9,80.9],
[26.6,27.5,26.5,29.3,37.7,47.2,53.8,67.8,77.6,80.1,80.9],
[27.6,28.5,27.5,30.4,38.9,48.4,54.9,68.9,78.1,80.3,81],
[28.5,29.5,28.5,31.5,40,49.5,56,70,78.5,80.5,81],
[29.2,30.3,29.3,32.3,40.7,50.1,56.5,70.3,78.7,80.6,81],
[30,31,30,33,41.5,50.8,57,70.6,78.8,80.7,81.1],
[30.7,31.8,30.8,33.8,42.2,51.4,57.6,70.9,79,80.9,81.1],
[31.4,32.6,31.6,34.6,42.9,52,58.1,71.2,79.1,81,81.2],
[32.2,33.4,32.4,35.4,43.7,52.6,58.6,71.5,79.3,81.1,81.2],
[32.9,34.1,33.1,36.1,44.4,53.3,59.1,71.8,79.4,81.2,81.3],
[33.6,34.9,33.9,36.9,45.1,53.9,59.6,72.1,79.6,81.3,81.3],
[34.3,35.7,34.7,37.7,45.8,54.5,60.2,72.4,79.7,81.4,81.3],
[35.1,36.4,35.4,38.4,46.6,55.1,60.7,72.7,79.9,81.6,81.4],
[35.8,37.2,36.2,39.2,47.3,55.8,61.2,73,80,81.7,81.4],
[36.5,38,37,40,48,56.4,61.7,73.3,80.2,81.8,81.5],
[37.3,38.8,37.8,40.8,48.8,57,62.3,73.7,80.4,81.9,81.5],
[38,39.5,38.5,41.5,49.5,57.6,62.8,74,80.5,82,81.5],
[38.7,40.3,39.3,42.3,50.2,58.3,63.3,74.3,80.7,82.1,81.6],
[39.4,41.1,40.1,43.1,50.9,58.9,63.8,74.6,80.8,82.3,81.6],
[40.2,41.8,40.8,43.8,51.7,59.5,64.3,74.9,81,82.4,81.7],
[40.9,42.6,41.6,44.6,52.4,60.1,64.9,75.2,81.1,82.5,81.7],
[41.6,43.4,42.4,45.4,53.1,60.8,65.4,75.5,81.3,82.6,81.8],
[42.4,44.2,43.2,46.2,53.9,61.4,65.9,75.8,81.4,82.7,81.8],
[43.1,44.9,43.9,46.9,54.6,62,66.4,76.1,81.6,82.8,81.8],
[43.8,45.7,44.7,47.7,55.3,62.6,66.9,76.4,81.7,83,81.9],
[44.5,46.5,45.5,48.5,56,63.3,67.5,76.7,81.9,83.1,81.9],
[45.3,47.2,46.2,49.2,56.8,63.9,68,77,82,83.2,82],
[46,48,47,50,57.5,64.5,68.5,77.3,82.2,83.3,82]];

const red70 = [
[6,5.5,4.5,6,12,19.5,25.5,42,64,75,80],
[12.5,12,11,13.5,21,30,37.5,52,71,77.5,80.8],
[14.1,13.7,12.7,15.3,22.9,31.9,39.3,53.8,71.8,77.8,80.8],
[15.6,15.4,14.4,17,24.7,33.7,41,55.5,72.5,78.1,80.8],
[17,17,16,18.6,26.4,35.4,42.6,57.1,73.2,78.4,80.9],
[18.4,18.5,17.5,20.2,28.1,37.1,44.2,58.7,73.9,78.7,80.9],
[19.7,19.9,18.9,21.7,29.7,38.7,45.7,60.2,74.6,79,80.9],
[20.9,21.3,20.3,23.1,31.2,40.2,47.1,61.6,75.2,79.2,80.9],
[22,22.5,21.5,24.3,32.5,41.5,48.3,62.8,75.8,79.4,81],
[23,23.6,22.6,25.5,33.8,42.8,49.5,64,76.3,79.6,81],
[23.9,24.6,23.6,26.6,34.9,43.9,50.6,65.1,76.8,79.8,81],
[24.8,25.6,24.6,27.6,36,45,51.6,66.1,77.2,80,81],
[25.7,26.6,25.6,28.6,37,46,52.6,67.1,77.6,80.2,81],
[26.5,27.5,26.5,29.5,38,47,53.5,68,78,80.3,81],
[27.2,28.2,27.2,30.2,38.7,47.6,54,68.3,78.1,80.4,81],
[27.9,28.9,27.9,30.9,39.3,48.2,54.5,68.6,78.3,80.5,81.1],
[28.6,29.6,28.6,31.6,40,48.8,55.1,68.9,78.4,80.6,81.1],
[29.3,30.3,29.3,32.3,40.7,49.3,55.6,69.3,78.6,80.7,81.1],
[29.9,31,30,33,41.3,49.9,56.1,69.6,78.7,80.8,81.1],
[30.6,31.8,30.8,33.8,42,50.5,56.6,69.9,78.8,81,81.2],
[31.3,32.5,31.5,34.5,42.7,51.1,57.2,70.2,79,81.1,81.2],
[32,33.2,32.2,35.2,43.3,51.7,57.7,70.5,79.1,81.2,81.2],
[32.7,33.9,32.9,35.9,44,52.3,58.2,70.8,79.2,81.3,81.3],
[33.4,34.6,33.6,36.6,44.7,52.8,58.7,71.1,79.4,81.4,81.3],
[34.1,35.3,34.3,37.3,45.3,53.4,59.2,71.4,79.5,81.5,81.3],
[34.8,36,35,38,46,54,59.8,71.8,79.7,81.6,81.4],
[35.4,36.7,35.7,38.7,46.7,54.6,60.3,72.1,79.8,81.7,81.4],
[36.1,37.4,36.4,39.4,47.3,55.2,60.8,72.4,79.9,81.8,81.4],
[36.8,38.1,37.1,40.1,48,55.8,61.3,72.7,80.1,81.9,81.4],
[37.5,38.8,37.8,40.8,48.7,56.3,61.8,73,80.2,82,81.5],
[38.2,39.5,38.5,41.5,49.3,56.9,62.4,73.3,80.3,82.1,81.5],
[38.9,40.3,39.3,42.3,50,57.5,62.9,73.6,80.5,82.3,81.5],
[39.6,41,40,43,50.7,58.1,63.4,73.9,80.6,82.4,81.6],
[40.3,41.7,40.7,43.7,51.3,58.7,63.9,74.3,80.8,82.5,81.6],
[40.9,42.4,41.4,44.4,52,59.3,64.4,74.6,80.9,82.6,81.6],
[41.6,43.1,42.1,45.1,52.7,59.8,65,74.9,81,82.7,81.6],
[42.3,43.8,42.8,45.8,53.3,60.4,65.5,75.2,81.2,82.8,81.7],
[43,44.5,43.5,46.5,54,61,66,75.5,81.3,82.9,81.7]];

const panelData = [
  [dark35, ambient35, white35, uv35, blue35, green35, red35],
  [dark70, ambient70, white70, uv70, blue70, green70, red70]
];

// ---------------- layout ----------------
const W = 911, H = 735;
const svg = d3.select("#chart");
const FONT = "'Liberation Sans', Arial, Helvetica, sans-serif";
const AX = "#262626";

svg.append("rect").attr("x", 16).attr("y", 6).attr("width", 889).attr("height", H - 6).attr("fill", "#fff");
svg.append("line").attr("x1", 0).attr("x2", 800).attr("y1", 733.5).attr("y2", 733.5).attr("stroke", "#c8c8c8");

const panelW = 108, panelH = 231, firstLeft = 67.7, step = 121.3;
const rowTops = [56.7, 432.7];

function jet(t) {
  const c = v => Math.max(0, Math.min(1, v));
  const r = c(1.5 - Math.abs(4 * t - 3)), g = c(1.5 - Math.abs(4 * t - 2)), b = c(1.5 - Math.abs(4 * t - 1));
  return d3.rgb(r * 255, g * 255, b * 255).toString();
}

const defs = svg.append("defs");

doses.forEach((dose, r) => {
  const top = rowTops[r];
  const y = d3.scaleLinear().domain([0, 90]).range([top + panelH, top]);
  const midX = firstLeft + (6 * step + panelW) / 2;
  svg.append("text").attr("x", midX).attr("y", top - 33.4)
    .attr("text-anchor", "middle").attr("font-family", FONT).attr("font-weight", "bold")
    .attr("font-size", 22).attr("fill", "#000").text(dose);
  svg.append("text").attr("x", midX).attr("y", top + panelH + 66)
    .attr("text-anchor", "middle").attr("font-family", FONT).attr("font-size", 22).attr("fill", AX)
    .text("Wavelength (nm)");
  svg.append("text").attr("transform", `translate(33.5,${top + panelH / 2}) rotate(-90)`)
    .attr("text-anchor", "middle").attr("font-family", FONT).attr("font-size", 21).attr("fill", AX)
    .text("Transmittance Rate (%)");

  lightConditions.forEach((cond, c) => {
    const left = firstLeft + c * step;
    const x = d3.scaleLinear().domain([340, 1000]).range([left, left + panelW]);
    const g = svg.append("g");
    const clipId = `clip-${r}-${c}`;
    defs.append("clipPath").attr("id", clipId).append("rect")
      .attr("x", left).attr("y", top).attr("width", panelW).attr("height", panelH);

    g.selectAll(".gx").data(xTicks).join("line")
      .attr("x1", d => x(d)).attr("x2", d => x(d)).attr("y1", top).attr("y2", top + panelH)
      .attr("stroke", "#dcdcdc").attr("stroke-width", 1);
    g.selectAll(".gy").data(yTicks.slice(1, -1)).join("line")
      .attr("x1", left).attr("x2", left + panelW).attr("y1", d => y(d)).attr("y2", d => y(d))
      .attr("stroke", "#dcdcdc").attr("stroke-width", 1);

    const curves = panelData[r][c];
    const n = curves.length;
    const line = d3.line().x((d, i) => x(wavelengths[i])).y(d => y(d)).curve(d3.curveMonotoneX);
    g.append("g").attr("clip-path", `url(#${clipId})`)
      .selectAll("path").data(curves).join("path")
      .attr("d", d => line(d)).attr("fill", "none")
      .attr("stroke", (d, i) => jet(i / (n - 1))).attr("stroke-width", 1.2);

    const axB = d3.axisBottom(x).tickValues(xTicks).tickSize(-3).tickFormat("");
    const axT = d3.axisTop(x).tickValues(xTicks).tickSize(-3).tickFormat("");
    const axL = d3.axisLeft(y).tickValues(yTicks).tickSize(-3).tickFormat("");
    const axR = d3.axisRight(y).tickValues(yTicks).tickSize(-3).tickFormat("");
    [[axB, `translate(0,${top + panelH})`], [axT, `translate(0,${top})`],
     [axL, `translate(${left},0)`], [axR, `translate(${left + panelW},0)`]].forEach(([ax, tr]) => {
      const a = g.append("g").attr("transform", tr).call(ax);
      a.selectAll("path.domain").attr("stroke", AX).attr("stroke-width", 1.1);
      a.selectAll(".tick line").attr("stroke", AX);
    });

    g.selectAll(".xl").data(xTicks).join("text")
      .attr("transform", d => `translate(${x(d) + 8.6},${top + panelH + 26}) rotate(-30)`)
      .attr("text-anchor", "end").attr("font-family", FONT).attr("font-size", 18).attr("fill", AX)
      .text(d => d);
    if (c === 0) {
      g.selectAll(".yl").data(yTicks).join("text")
        .attr("x", left - 4.5).attr("y", d => y(d)).attr("dy", "0.35em")
        .attr("text-anchor", "end").attr("font-family", FONT).attr("font-size", 19).attr("fill", AX)
        .text(d => d);
    }
    const isRed = r === 0 && redTitlesTopRow.includes(cond);
    svg.append("text").attr("x", left + panelW / 2).attr("y", top - 6)
      .attr("text-anchor", "middle").attr("font-family", FONT).attr("font-size", 22)
      .attr("fill", isRed ? "#ff0000" : "#000").text(cond);
  });
});
</script>
</body></html>
